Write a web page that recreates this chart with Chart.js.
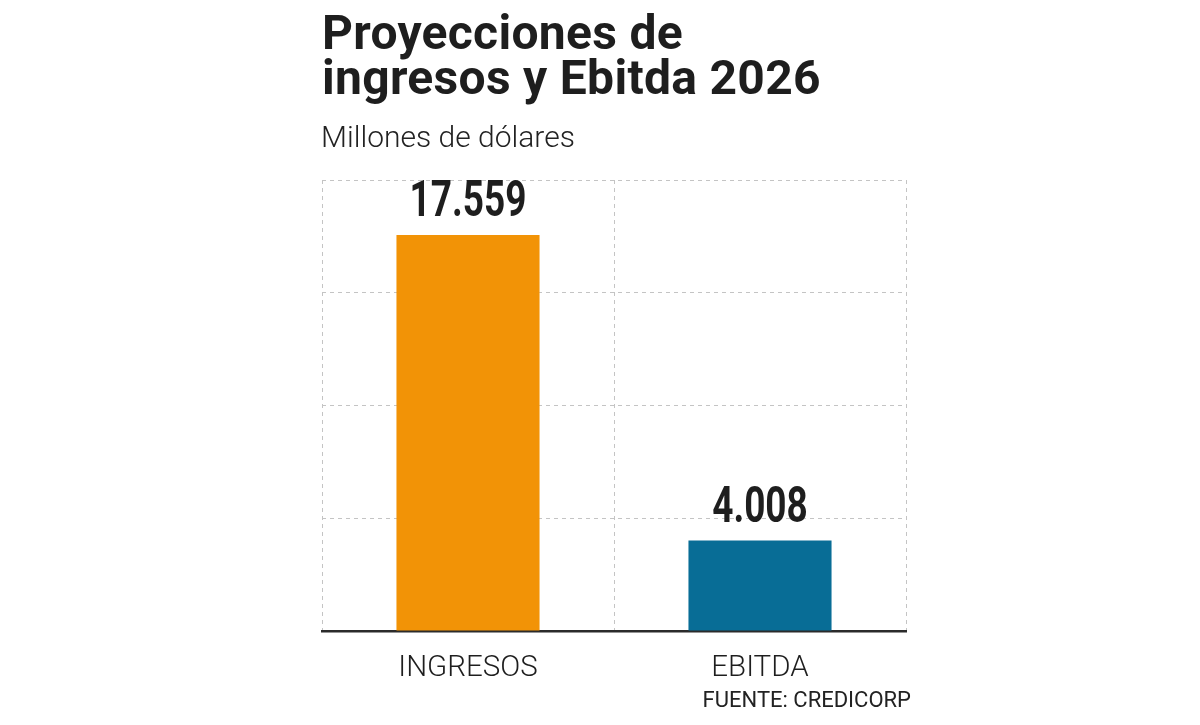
<!DOCTYPE html>
<html lang="es">
<head>
<meta charset="utf-8">
<title>Proyecciones de ingresos y Ebitda 2026</title>
<script src="https://cdn.jsdelivr.net/npm/chart.js@4.4.1/dist/chart.umd.min.js"></script>
<style>
  html, body { margin: 0; padding: 0; background: #fff; }
  #wrap { position: relative; width: 1200px; height: 725px; overflow: hidden; }
  #grafico { position: absolute; left: 0; top: 0; }
  .titulo {
    position: absolute; left: 322px; top: 10px;
    font-family: Roboto, "Noto Sans", sans-serif; font-weight: 700;
    font-size: 48px; line-height: 45px; color: #1e1e1e; letter-spacing: 0.3px;
  }
  .subtitulo {
    position: absolute; left: 321px; top: 119px;
    font-family: Roboto, "Noto Sans", sans-serif; font-weight: 300;
    font-size: 30px; color: #222;
  }
  .fuente {
    position: absolute; right: 289px; top: 687px;
    font-family: Roboto, "Noto Sans", sans-serif; font-weight: 400;
    font-size: 22px; color: #222;
  }
</style>
</head>
<body>
<div id="wrap">
  <canvas id="grafico" width="1200" height="725"></canvas>
  <div class="titulo">Proyecciones de<br>ingresos y Ebitda 2026</div>
  <div class="subtitulo">Millones de dólares</div>
  <div class="fuente">FUENTE: CREDICORP</div>
</div>
<script>
// Datos del gráfico
const categorias = ['INGRESOS', 'EBITDA'];
const valores = [17559, 4008];
const etiquetasValor = ['17.559', '4.008'];
const coloresBarras = ['#F29306', '#086D96'];

// Etiquetas de valor sobre las barras y nombres de categoría debajo
const pluginEtiquetas = {
    id: 'etiquetas',
    afterDatasetsDraw(chart) {
        const ctx = chart.ctx;
        const meta = chart.getDatasetMeta(0);
        const ejeX = chart.scales.x;
        ctx.save();
        ctx.fillStyle = '#1e1e1e';
        ctx.textAlign = 'center';
        ctx.textBaseline = 'alphabetic';
        meta.data.forEach((barra, i) => {
            // numero condensado: se comprime en horizontal
            ctx.save();
            ctx.font = 'bold 50px Roboto, "Noto Sans", sans-serif';
            ctx.translate(barra.x, barra.y - 19);
            ctx.scale(0.74, 1);
            ctx.fillText(etiquetasValor[i], 0, 0);
            ctx.restore();
            ctx.font = '300 29.5px Roboto, "Noto Sans", sans-serif';
            ctx.fillText(categorias[i], ejeX.getPixelForValue(i), chart.chartArea.bottom + 45);
        });
        ctx.restore();
    }
};

new Chart(document.getElementById('grafico').getContext('2d'), {
    type: 'bar',
    data: {
        labels: categorias,
        datasets: [{
            data: valores,
            backgroundColor: coloresBarras,
            borderWidth: 0,
            categoryPercentage: 0.49,
            barPercentage: 1
        }]
    },
    options: {
        responsive: false,
        animation: false,
        layout: { padding: { left: 322, right: 294, top: 180, bottom: 94 } },
        plugins: {
            legend: { display: false },
            tooltip: { enabled: false }
        },
        scales: {
            x: {
                offset: true,
                ticks: { display: false },
                grid: { offset: true, drawTicks: false, color: '#c4c4c4', lineWidth: 1 },
                border: { display: true, color: '#2b2b2b', width: 2.5, dash: [4, 4] }
            },
            y: {
                min: 0,
                max: 20000,
                ticks: { display: false, stepSize: 5000 },
                grid: { drawTicks: false, color: '#c4c4c4', lineWidth: 1 },
                border: { display: false, dash: [4, 4] }
            }
        }
    },
    plugins: [pluginEtiquetas]
});
</script>
</body>
</html>
